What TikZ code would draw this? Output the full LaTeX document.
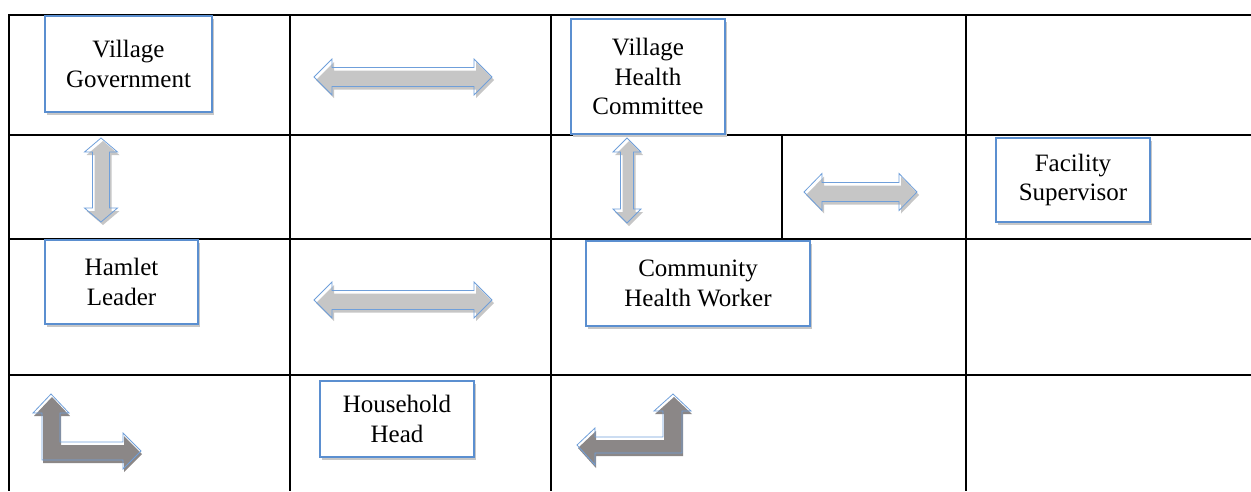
\documentclass[tikz,border=0pt]{standalone}
\usepackage{fontspec}
\setmainfont{Liberation Serif}
\usetikzlibrary{shadows}
\definecolor{boxblue}{HTML}{5B8FD0}
\definecolor{edgeblue}{HTML}{6F9FDA}
\definecolor{lightfill}{HTML}{C6C6C6}
\definecolor{darkfill}{HTML}{8B8787}
\tikzset{
  grid/.style={line width=2pt, black},
  rolebox/.style={draw=boxblue, line width=1.3pt, fill=white, inner sep=0pt,
    align=center, font=\fontsize{25}{29.5}\selectfont,
    drop shadow={shadow xshift=1.5pt, shadow yshift=-3pt, fill=black!22, opacity=1}},
  arrowedge/.style={draw=edgeblue, line width=0.8pt, line join=miter},
  lightbody/.style={fill=lightfill},
  darkbody/.style={fill=darkfill},
}
% horizontal double block arrow: left tip, right tip, centre y, head length, shaft half, head half
\newcommand\hdblarrow[6]{%
  \path[lightbody, shift={(2,3)}] (#1,#3) -- ++(#4,-#6) -- ++(0,#6-#5) -- (#2-#4,#3-#5) -- ++(0,#5-#6)
    -- (#2,#3) -- (#2-#4,#3+#6) -- ++(0,#5-#6) -- (#1+#4,#3+#5) -- ++(0,#6-#5) -- cycle;
  \draw[arrowedge] (#1,#3) -- ++(#4,-#6) -- ++(0,#6-#5) -- (#2-#4,#3-#5) -- ++(0,#5-#6)
    -- (#2,#3) -- (#2-#4,#3+#6) -- ++(0,#5-#6) -- (#1+#4,#3+#5) -- ++(0,#6-#5) -- cycle;}
% vertical double block arrow: centre x, top tip, bottom tip, head length, shaft half, head half
\newcommand\vdblarrow[6]{%
  \path[lightbody, shift={(2,3)}] (#1,#2) -- ++(#6,#4) -- ++(#5-#6,0) -- (#1+#5,#3-#4) -- ++(#6-#5,0)
    -- (#1,#3) -- (#1-#6,#3-#4) -- ++(#6-#5,0) -- (#1-#5,#2+#4) -- ++(#5-#6,0) -- cycle;
  \draw[arrowedge] (#1,#2) -- ++(#6,#4) -- ++(#5-#6,0) -- (#1+#5,#3-#4) -- ++(#6-#5,0)
    -- (#1,#3) -- (#1-#6,#3-#4) -- ++(#6-#5,0) -- (#1-#5,#2+#4) -- ++(#5-#6,0) -- cycle;}
\begin{document}
\begin{tikzpicture}[x=1pt, y=-1pt]
\useasboundingbox (0,0) rectangle (1251,491);

% table rules
\draw[grid] (9,15) -- (1251,15);
\draw[grid] (9,135) -- (1251,135);
\draw[grid] (9,238.5) -- (1251,238.5);
\draw[grid] (9,375) -- (1251,375);
\draw[grid] (9,14) -- (9,491);
\draw[grid] (290,14) -- (290,491);
\draw[grid] (551,14) -- (551,491);
\draw[grid] (966,14) -- (966,491);
\draw[grid] (782,135) -- (782,238.5);

% role boxes
\node[rolebox, minimum width=167pt, minimum height=96pt] (vg) at (128.5,64) {Village\\Government};
\node[rolebox, minimum width=154pt, minimum height=115pt] (vhc) at (648,76.5) {Village\\Health\\Committee};
\node[rolebox, minimum width=154pt, minimum height=84pt] (fs) at (1073,180) {Facility\\Supervisor};
\node[rolebox, minimum width=153pt, minimum height=84pt] (hl) at (121.5,282) {Hamlet\\Leader};
\node[rolebox, minimum width=224pt, minimum height=85pt] (chw) at (698,283.5) {Community\\Health Worker};
\node[rolebox, minimum width=154pt, minimum height=76pt] (hh) at (397,419) {Household\\Head};

% two-way block arrows
\hdblarrow{314}{492}{77}{18}{9.5}{18}
\hdblarrow{314}{492}{300}{18}{9.5}{18}
\hdblarrow{804}{917}{192}{18}{9.5}{18.5}
\vdblarrow{101}{138}{222}{14}{8.5}{16.5}
\vdblarrow{627}{138}{223}{14}{6.5}{14}

% bent arrow: up and right
\path[darkbody, shift={(1,3)}] (51,394) -- (69,413) -- (60,413) -- (60,442) -- (123,442) -- (123,433)
  -- (141,451) -- (123,469) -- (123,460) -- (42,460) -- (42,413) -- (33,413) -- cycle;
\draw[arrowedge] (51,394) -- (69,413) -- (60,413) -- (60,442) -- (123,442) -- (123,433)
  -- (141,451) -- (123,469) -- (123,460) -- (42,460) -- (42,413) -- (33,413) -- cycle;

% bent arrow: left and up
\path[darkbody, shift={(1,3)}] (673,394) -- (691,411) -- (682,411) -- (682,453) -- (595,453) -- (595,465)
  -- (577,445) -- (595,428) -- (595,437) -- (663,437) -- (663,411) -- (654,411) -- cycle;
\draw[arrowedge] (673,394) -- (691,411) -- (682,411) -- (682,453) -- (595,453) -- (595,465)
  -- (577,445) -- (595,428) -- (595,437) -- (663,437) -- (663,411) -- (654,411) -- cycle;
\end{tikzpicture}
\end{document}
